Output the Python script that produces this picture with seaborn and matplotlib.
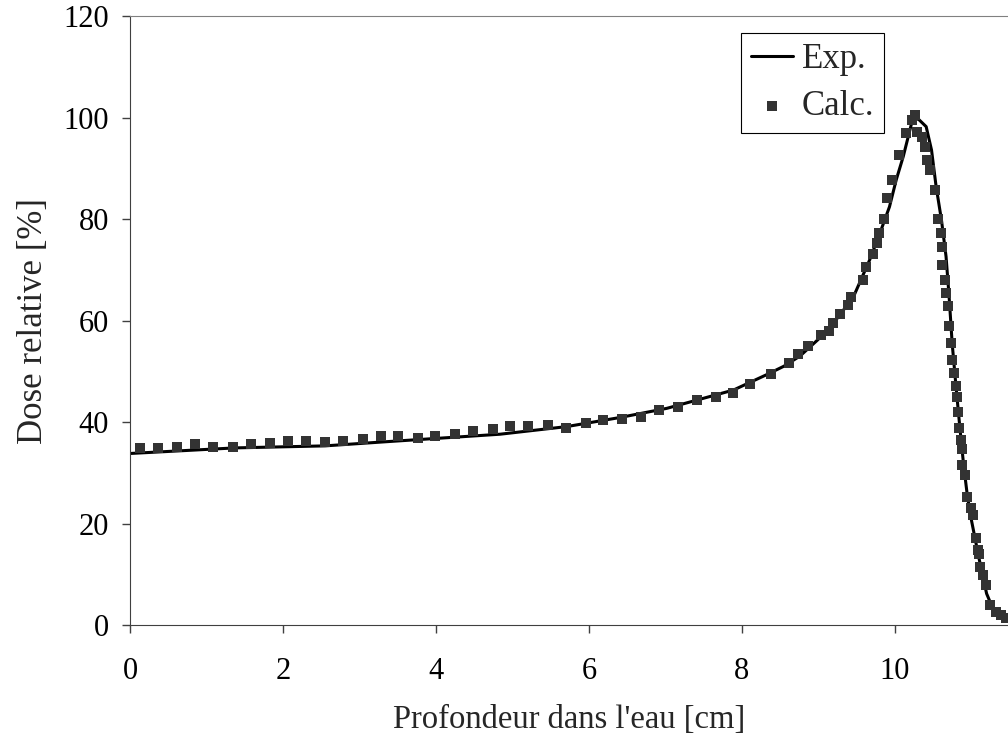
import numpy as np
import pandas as pd
import seaborn as sns
import matplotlib.pyplot as plt

# Measured depth-dose curve (Exp.)
exp_depth = [0.0, 1.37, 2.55, 3.33, 4.84, 5.71, 6.41, 7.02, 7.89, 8.32, 8.55, 8.76,
             9.0, 9.2, 9.46, 9.67, 9.8, 9.93, 10.02, 10.11, 10.22, 10.30, 10.41, 10.48,
             10.54, 10.61, 10.67, 10.71, 10.75, 10.80, 10.85, 10.90, 10.95, 11.00,
             11.05, 11.10, 11.20, 11.30, 11.46]
exp_dose = [33.8, 34.9, 35.3, 36.1, 37.6, 39.1, 40.9, 42.7, 46.3, 49.3, 51.0, 53.0,
            56.3, 59.5, 64.7, 71.9, 77.0, 82.4, 87.8, 92.3, 98.9, 99.8, 98.2, 93.6,
            86.4, 79.8, 72.6, 64.7, 55.5, 47.0, 39.0, 31.5, 25.3, 20.8,
            17.0, 13.2, 6.2, 2.6, 1.0]

# Calculated points (Calc.)
calc_depth = [0.13, 0.36, 0.62, 0.85, 1.09, 1.34, 1.58, 1.83, 2.06, 2.30, 2.55, 2.79,
              3.04, 3.28, 3.51, 3.76, 3.99, 4.25, 4.49, 4.74, 4.97, 5.21, 5.46, 5.70,
              5.96, 6.19, 6.43, 6.68, 6.92, 7.17, 7.41, 7.66, 7.89, 8.11, 8.38, 8.61,
              8.74, 8.87, 9.04, 9.14, 9.19, 9.28, 9.39, 9.43, 9.59, 9.62, 9.72, 9.77,
              9.79, 9.86, 9.90, 9.96, 10.06, 10.14, 10.22, 10.27, 10.29, 10.36, 10.39,
              10.42, 10.46, 10.52, 10.57, 10.60, 10.62, 10.62, 10.65, 10.67, 10.69,
              10.71, 10.73, 10.75, 10.77, 10.80, 10.81, 10.83, 10.84, 10.86, 10.88,
              10.88, 10.92, 10.94, 10.99, 11.02, 11.06, 11.09, 11.10, 11.12, 11.15,
              11.19, 11.24, 11.32, 11.39, 11.45]
calc_dose = [34.8, 34.8, 35.0, 35.7, 35.0, 35.0, 35.6, 35.9, 36.3, 36.3, 36.0, 36.3,
             36.7, 37.3, 37.3, 36.9, 37.3, 37.6, 38.3, 38.6, 39.2, 39.2, 39.5, 38.9,
             39.9, 40.3, 40.5, 41.0, 42.4, 43.0, 44.3, 45.0, 45.7, 47.5, 49.4, 51.6,
             53.5, 55.0, 57.1, 58.0, 59.6, 61.3, 63.1, 64.7, 68.0, 70.6, 73.2, 75.2,
             77.2, 80.1, 84.1, 87.6, 92.6, 96.9, 99.5, 100.5, 97.2, 96.2, 94.2,
             91.6, 89.7, 85.7, 80.1, 77.2, 74.5, 70.9, 68.0, 65.4, 62.9,
             58.9, 55.5, 52.2, 49.6, 47.0, 45.0, 42.0, 38.8, 36.5, 34.6,
             31.5, 29.6, 25.3, 23.0, 21.7, 17.1, 14.8, 14.0, 11.5, 9.9,
             7.9, 3.9, 2.6, 2.0, 1.3]

exp_df = pd.DataFrame({'depth': exp_depth, 'dose': exp_dose})
calc_df = pd.DataFrame({'depth': calc_depth, 'dose': calc_dose})

sns.set_style('ticks')
plt.rcParams['font.family'] = ['Liberation Serif', 'DejaVu Serif']
plt.rcParams['font.size'] = 22

fig = plt.figure(figsize=(10.08, 7.48), dpi=100)
ax = fig.add_axes([0.129, 0.1644, 0.871, 0.8142])

sns.lineplot(data=exp_df, x='depth', y='dose', ax=ax, color='black', linewidth=2.2,
             label='Exp.', sort=False)
sns.scatterplot(data=calc_df, x='depth', y='dose', ax=ax, color='#333333', marker='s',
                s=50, linewidth=0, label='Calc.', zorder=3)

ax.set_xlim(0, 11.48)
ax.set_ylim(0, 120)
ax.set_xticks(np.arange(0, 11, 2))
ax.set_yticks(np.arange(0, 121, 20))
ax.tick_params(direction='out', length=6, width=1, colors='#404040', labelcolor='black',
               labelsize=22)
ax.tick_params(axis='y', pad=9)
ax.tick_params(axis='x', pad=17)

ax.spines['right'].set_visible(False)
ax.spines['top'].set_color('#808080')
ax.spines['left'].set_color('#404040')
ax.spines['bottom'].set_color('#404040')

ax.set_xlabel("Profondeur dans l'eau [cm]", fontsize=23.5, labelpad=13)
ax.set_ylabel('Dose relative [%]', fontsize=25, labelpad=10)

leg = ax.legend(loc='upper left', bbox_to_anchor=(0.6956, 0.9726), borderaxespad=0,
                fancybox=False, edgecolor='black', framealpha=1, fontsize=25,
                handlelength=1.2, handletextpad=0.25, borderpad=0.3, labelspacing=0.4)
leg.get_frame().set_linewidth(0.8)

fig.savefig('out.png', dpi=100)
